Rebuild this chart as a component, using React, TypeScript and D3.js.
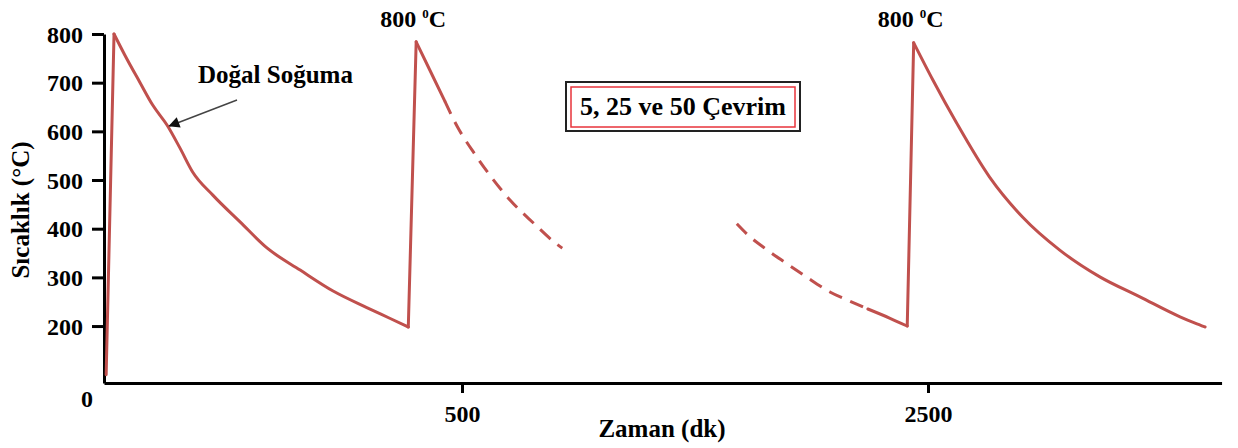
import * as d3 from 'd3';
import React, {useRef, useEffect} from 'react';

// time (dk) / temperature (°C) readings
const tempTicks = [200, 300, 400, 500, 600, 700, 800];
const timeTicks = [500, 2500];

const solidA: [number, number][] = [
  [3, 100], [14, 800], [29, 757], [50, 701], [68, 654], [88, 613], [106, 566],
  [124, 516], [152, 469], [190, 414], [228, 360], [274, 315],
  [320, 272], [367, 238], [399, 216], [425, 198],
  [436, 784], [455, 726], [476, 662]
];
const dashedA: [number, number][] = [
  [476, 662], [493, 611], [518, 553], [542, 504], [567, 459], [601, 410], [630, 371], [640, 360]
];
const dashedB: [number, number][] = [
  [2233, 410], [2250, 385], [2272, 360], [2300, 331], [2328, 303], [2363, 270], [2391, 251], [2416, 235]
];
const solidB: [number, number][] = [
  [2416, 235], [2447, 216], [2471, 200],
  [2480, 782], [2507, 705], [2540, 617], [2586, 506], [2632, 424], [2684, 356],
  [2740, 301], [2796, 260], [2852, 219], [2873, 206], [2887, 198]
];
const peakTimes = [436, 2480];
const arrowPoint: [number, number] = [90, 609];

const W = 1238, H = 448;
const FONT = '"Liberation Serif", "Times New Roman", serif';
const RED = '#c0504d';

// split a series into runs that only go up or only go down
const runs = (s: [number, number][]) => {
  var out: {up: boolean, pts: [number, number][]}[] = [];
  for (var i = 1; i < s.length; i++) {
    var up = s[i][1] > s[i - 1][1];
    var last = out[out.length - 1];
    if (last && last.up === up) last.pts.push(s[i]);
    else out.push({up: up, pts: [s[i - 1], s[i]]});
  }
  return out;
};

const Chart = () => {
  const ref = useRef<SVGSVGElement>(null);

  useEffect(() => {
    const svg = d3.select(ref.current);
    svg.selectAll('*').remove();

    // broken time axis: 0..650 and 2230..2910 at the same rate, gap squeezed
    var x0 = 104, rate = (462 - 104) / 500;
    var x = d3.scaleLinear()
      .domain([0, 650, 2230, 2910])
      .range([x0, x0 + 650 * rate, 928 - 270 * rate, 928 + 410 * rate]);
    var y = d3.scaleLinear().domain([83, 800]).range([383, 34]);

    var defs = svg.append('defs');
    defs.append('marker').attr('id', 'arrowhead')
      .attr('viewBox', '0 0 10 10').attr('refX', 9).attr('refY', 5)
      .attr('markerWidth', 16).attr('markerHeight', 11)
      .attr('markerUnits', 'userSpaceOnUse')
      .attr('orient', 'auto')
      .append('path').attr('d', 'M0,0 L10,5 L0,10 Z').attr('fill', '#111');

    // axes
    var yAxis = svg.append('g').attr('transform', 'translate(' + x0 + ',0)')
      .call(d3.axisLeft(y).tickValues(tempTicks).tickSize(12).tickSizeOuter(0).tickPadding(9));
    var xAxis = svg.append('g').attr('transform', 'translate(0,' + y(83) + ')')
      .call(d3.axisBottom(x).tickValues(timeTicks).tickFormat(d3.format('d')).tickSize(10).tickSizeOuter(0));
    [yAxis, xAxis].forEach(a => {
      a.select('.domain').attr('stroke', '#000').attr('stroke-width', 3);
      a.selectAll('.tick line').attr('stroke', '#000').attr('stroke-width', 3);
      a.selectAll('.tick text')
        .attr('fill', '#000').attr('font-family', FONT)
        .attr('font-size', 24).attr('font-weight', 'bold');
    });
    yAxis.selectAll('.tick text').attr('dy', '0.34em');
    xAxis.selectAll('.tick text').attr('y', 39).attr('dy', 0);

    svg.append('text').attr('x', 87).attr('y', 407).attr('text-anchor', 'middle')
      .attr('font-family', FONT).attr('font-size', 24).attr('font-weight', 'bold').text('0');

    // cycles: heating runs straight, cooling runs smooth
    var straight = d3.line<[number, number]>().x(d => x(d[0])).y(d => y(d[1]));
    var smooth = d3.line<[number, number]>().x(d => x(d[0])).y(d => y(d[1])).curve(d3.curveMonotoneX);
    [solidA, solidB].forEach(s => {
      runs(s).forEach(r => {
        svg.append('path').datum(r.pts).attr('d', r.up ? straight : smooth).attr('fill', 'none')
          .attr('stroke', RED).attr('stroke-width', 3)
          .attr('stroke-linejoin', 'round').attr('stroke-linecap', 'round');
      });
    });
    [dashedA, dashedB].forEach(s => {
      svg.append('path').datum(s).attr('d', smooth).attr('fill', 'none')
        .attr('stroke', RED).attr('stroke-width', 3).attr('stroke-dasharray', '14 9');
    });

    // peak labels
    peakTimes.forEach(t => {
      var lbl = svg.append('text').attr('x', x(t) - 3).attr('y', y(800) - 7)
        .attr('text-anchor', 'middle').attr('font-family', FONT)
        .attr('font-size', 24).attr('font-weight', 'bold');
      lbl.append('tspan').text('800 ');
      lbl.append('tspan').attr('font-size', 13).attr('dy', -9).text('0');
      lbl.append('tspan').attr('dy', 9).text('C');
    });

    // Doğal Soğuma annotation
    svg.append('text').attr('x', 198).attr('y', 83)
      .attr('font-family', FONT).attr('font-size', 25).attr('font-weight', 'bold')
      .text('Doğal Soğuma');
    svg.append('line').attr('x1', 237).attr('y1', 100)
      .attr('x2', x(arrowPoint[0]) + 1).attr('y2', y(arrowPoint[1]) - 1)
      .attr('stroke', '#444').attr('stroke-width', 1.5)
      .attr('marker-end', 'url(#arrowhead)');

    // cycle box
    svg.append('rect').attr('x', 566).attr('y', 82).attr('width', 234).attr('height', 49)
      .attr('fill', '#fff').attr('stroke', '#222').attr('stroke-width', 2);
    svg.append('rect').attr('x', 571).attr('y', 87).attr('width', 224).attr('height', 40)
      .attr('fill', 'none').attr('stroke', '#e8333b').attr('stroke-width', 1.5);
    svg.append('text').attr('x', 683).attr('y', 115).attr('text-anchor', 'middle')
      .attr('font-family', FONT).attr('font-size', 26).attr('font-weight', 'bold')
      .text('5, 25 ve 50 Çevrim');

    // axis titles
    svg.append('text').attr('transform', 'translate(29,210) rotate(-90)')
      .attr('text-anchor', 'middle').attr('font-family', FONT)
      .attr('font-size', 25).attr('font-weight', 'bold').text('Sıcaklık (°C)');
    svg.append('text').attr('x', 662).attr('y', 437).attr('text-anchor', 'middle')
      .attr('font-family', FONT).attr('font-size', 25).attr('font-weight', 'bold')
      .text('Zaman (dk)');
  });

  return (
    <svg ref={ref} width={W} height={H}
      style={{position: 'absolute', left: 0, top: 0, background: '#fff'}} />
  );
};

export default function App() {
  return <Chart />;
}
